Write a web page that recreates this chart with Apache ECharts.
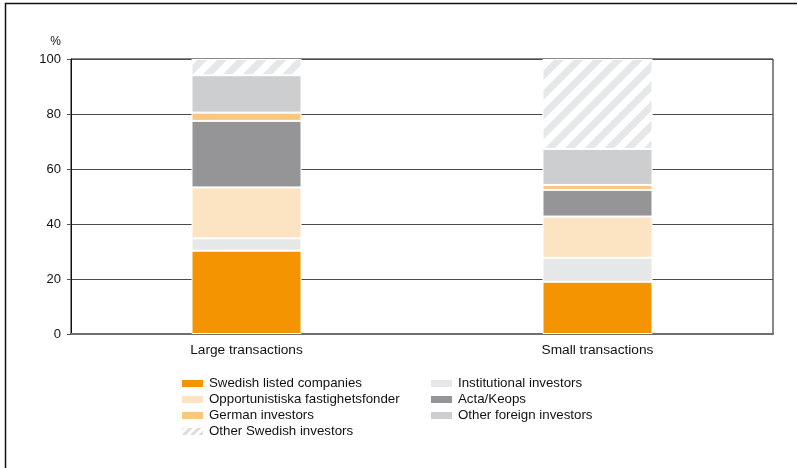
<!DOCTYPE html>
<html>
<head>
<meta charset="utf-8">
<script src="https://cdn.jsdelivr.net/npm/echarts@6/dist/echarts.min.js"></script>
<style>
html,body{margin:0;padding:0;background:#fff;}
#chart{width:797px;height:468px;}
</style>
</head>
<body>
<div id="chart"></div>
<script>
const categories = ['Large transactions', 'Small transactions'];
const swedishListed = [30.3, 19.0];
const institutional = [4.5, 8.7];
const opportunistiska = [18.5, 15.0];
const actaKeops = [24.2, 9.7];
const german = [3.0, 1.8];
const otherForeign = [13.6, 13.1];
const otherSwedish = [5.9, 32.7];
const yTicks = [0, 20, 40, 60, 80, 100];

const font = '"Liberation Sans", Arial, Helvetica, sans-serif';

function mk(name, data, color, extra) {
  return Object.assign({
    name: name,
    type: 'bar',
    stack: 'total',
    barWidth: 110,
    data: data,
    itemStyle: { color: color, borderColor: '#ffffff', borderWidth: 1 }
  }, extra || {});
}

const hatch = {
  symbol: 'rect',
  color: '#e6e7e8',
  dashArrayX: [1, 0],
  dashArrayY: [7, 7],
  rotation: -Math.PI / 4
};
const hatchSmall = {
  symbol: 'rect',
  color: '#dcdddf',
  dashArrayX: [1, 0],
  dashArrayY: [3, 3],
  rotation: -Math.PI / 4
};

const legendText = { fontSize: 13.3, color: '#111', lineHeight: 13, fontFamily: font };

const chart = echarts.init(document.getElementById('chart'), null, { renderer: 'canvas' });
chart.setOption({
  animation: false,
  backgroundColor: '#fff',
  textStyle: { fontFamily: font },
  grid: {
    left: 71, right: 24, top: 59, bottom: 134,
    show: true, borderColor: '#111', borderWidth: 1
  },
  xAxis: {
    type: 'category',
    data: categories,
    axisLine: { show: true, lineStyle: { color: '#6e6e6e', width: 2 } },
    axisTick: { show: false },
    axisLabel: { color: '#111', fontSize: 13.7, margin: 9, fontFamily: font },
    splitLine: { show: false }
  },
  yAxis: {
    type: 'value',
    min: 0, max: 100, interval: 20,
    name: '%',
    nameLocation: 'end',
    nameGap: 11,
    nameTextStyle: { color: '#111', fontSize: 12, align: 'right', padding: [0, 10, 0, 0], fontFamily: font },
    axisLine: { show: true, lineStyle: { color: '#111', width: 1 } },
    axisTick: { show: true, inside: false, length: 4, lineStyle: { color: '#555' } },
    axisLabel: {
      color: '#111', fontSize: 13, margin: 10, fontFamily: font,
      formatter: function (v) { return yTicks.indexOf(v) >= 0 ? String(v) : ''; }
    },
    splitLine: { show: true, lineStyle: { color: '#4a4a4a', width: 1 } }
  },
  legend: [
    {
      orient: 'vertical', left: 175, top: 372,
      itemWidth: 23, itemHeight: 9, itemGap: 3,
      icon: 'rect',
      textStyle: legendText,
      data: [
        'Swedish listed companies',
        'Opportunistiska fastighetsfonder',
        'German investors',
        { name: 'Other Swedish investors', itemStyle: { color: '#ffffff', decal: hatchSmall } }
      ]
    },
    {
      orient: 'vertical', left: 424, top: 372,
      itemWidth: 23, itemHeight: 9, itemGap: 3,
      icon: 'rect',
      textStyle: legendText,
      data: ['Institutional investors', 'Acta/Keops', 'Other foreign investors']
    }
  ],
  graphic: [
    {
      type: 'polyline',
      shape: { points: [[5.5, 468], [5.5, 3.5], [797, 3.5]] },
      style: { stroke: '#111', lineWidth: 1.5, fill: null },
      silent: true
    }
  ],
  series: [
    mk('Swedish listed companies', swedishListed, '#f39400'),
    mk('Institutional investors', institutional, '#e6e7e8'),
    mk('Opportunistiska fastighetsfonder', opportunistiska, '#fce4c2'),
    mk('Acta/Keops', actaKeops, '#959497'),
    mk('German investors', german, '#fbc77f'),
    mk('Other foreign investors', otherForeign, '#cdced0'),
    {
      name: 'Other Swedish investors',
      type: 'bar',
      stack: 'total',
      barWidth: 110,
      data: otherSwedish,
      itemStyle: { color: '#ffffff', borderColor: '#ffffff', borderWidth: 1, decal: hatch }
    }
  ]
});
</script>
</body>
</html>
